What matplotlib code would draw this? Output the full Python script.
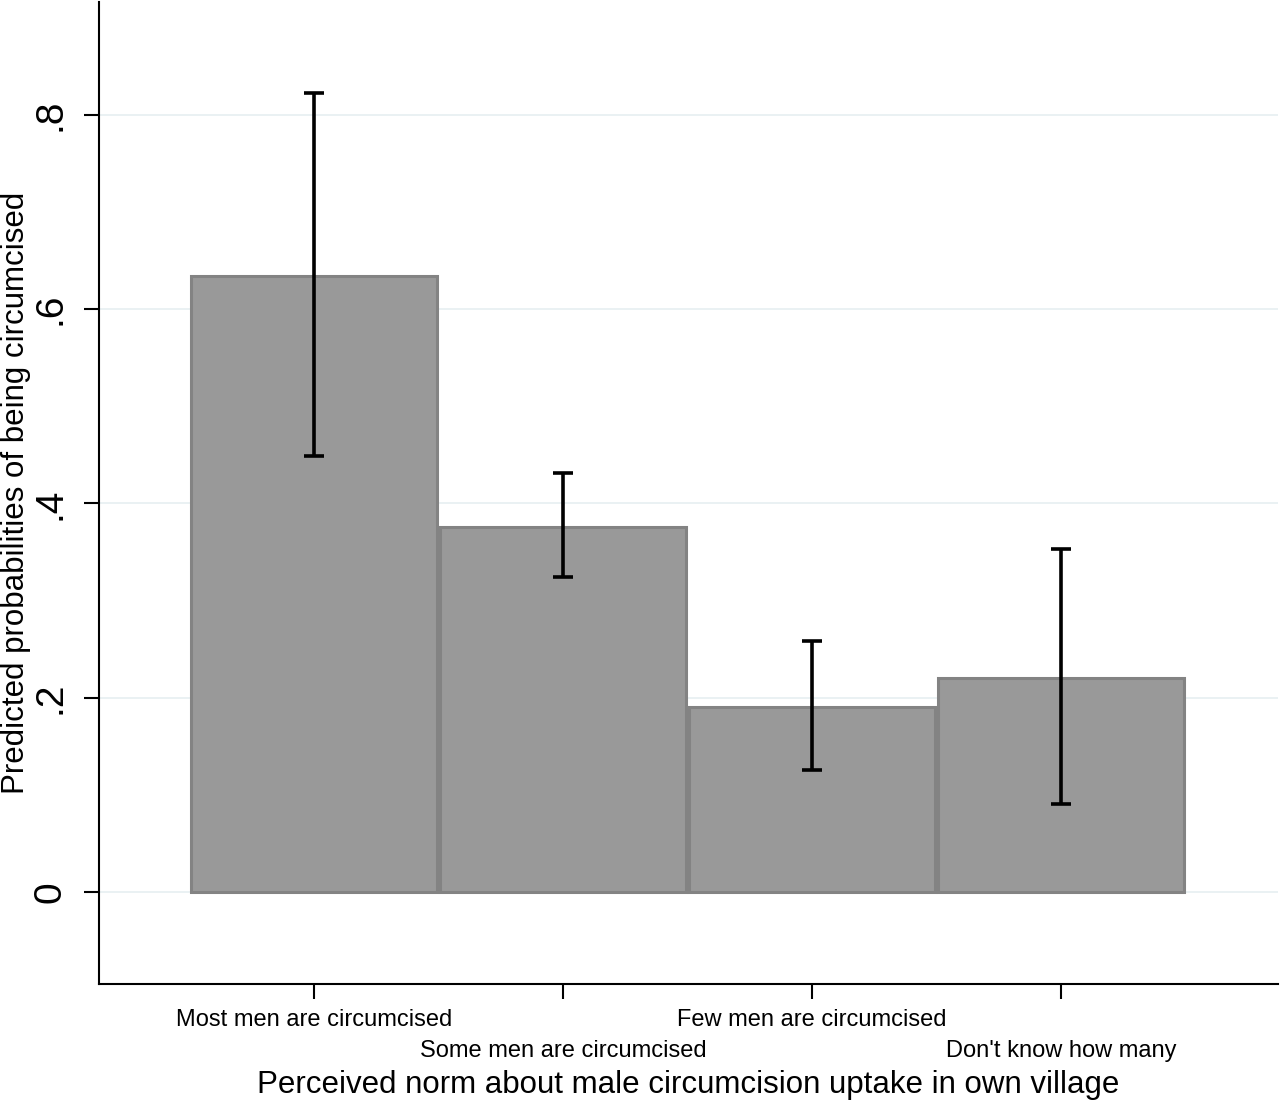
import numpy as np
import matplotlib
matplotlib.use("Agg")
import matplotlib.pyplot as plt

plt.rcParams['font.family'] = ['Liberation Sans', 'DejaVu Sans']

# data
categories = ["Most men are circumcised", "Some men are circumcised",
              "Few men are circumcised", "Don't know how many"]
probs = [0.634, 0.376, 0.190, 0.220]
ci_low = [0.449, 0.324, 0.126, 0.091]
ci_high = [0.822, 0.431, 0.258, 0.353]
yticks = [0, 0.2, 0.4, 0.6, 0.8]
ytick_labels = ["0", ".2", ".4", ".6", ".8"]

fig = plt.figure(figsize=(12.8, 11.01), dpi=100)
ax = fig.add_axes([0.0773, 0.1063, 0.921, 0.892])

x = np.arange(1, len(categories) + 1)
probs = np.array(probs)
err = [probs - np.array(ci_low), np.array(ci_high) - probs]

ax.bar(x, probs, width=0.988, color='#999999', edgecolor='#838383',
       linewidth=2.2, zorder=2)
ax.errorbar(x, probs, yerr=err, fmt='none', ecolor='black',
            elinewidth=2.6, capsize=7.5, capthick=2.6, zorder=3)

ax.set_xlim(0.137, 4.871)
ax.set_ylim(-0.0946, 0.916)

ax.set_yticks(yticks)
ax.set_yticklabels(ytick_labels, rotation=90, va='center', fontsize=28)
ax.yaxis.grid(True, color='#e6eff1', linewidth=1.2, zorder=0)
ax.set_axisbelow(True)

ax.set_xticks(x)
ax.set_xticklabels(categories, fontsize=17)

ax.tick_params(axis='both', length=11, width=1.5, color='black')
ax.tick_params(axis='y', pad=11)
ax.tick_params(axis='x', pad=7)
# alternate the category labels on two rows
for i, t in enumerate(ax.xaxis.get_major_ticks()):
    if i % 2 == 1:
        t.set_pad(7 + 31 / 1.389)

for s in ['top', 'right']:
    ax.spines[s].set_visible(False)
for s in ['left', 'bottom']:
    ax.spines[s].set_linewidth(1.5)

ax.set_ylabel("Predicted probabilities of being circumcised", fontsize=22.5)
ax.yaxis.set_label_coords(-0.058, 0.5)
ax.set_xlabel("Perceived norm about male circumcision uptake in own village", fontsize=22.5)
ax.xaxis.set_label_coords(0.5, -0.088)

fig.savefig("out.png", dpi=100)
